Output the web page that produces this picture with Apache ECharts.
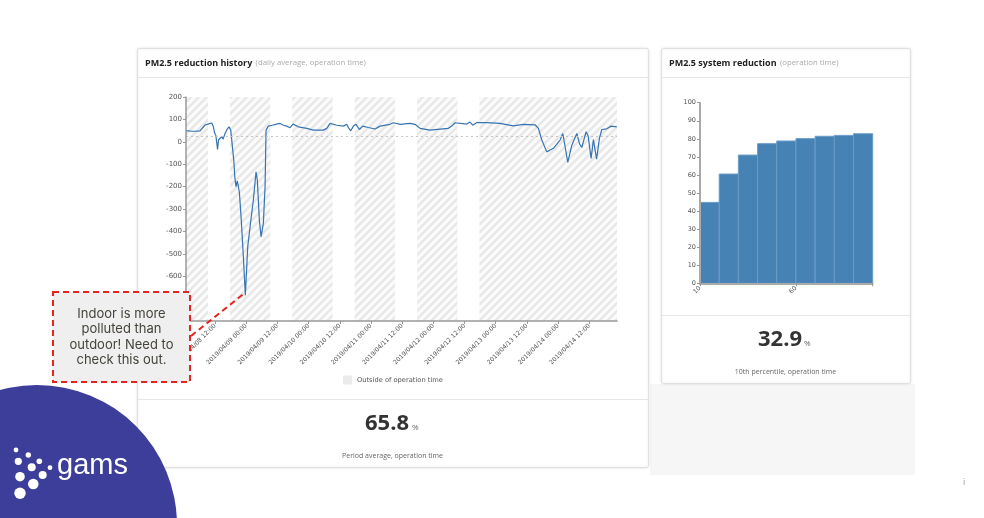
<!DOCTYPE html>
<html>
<head>
<meta charset="utf-8">
<script src="https://cdn.jsdelivr.net/npm/echarts@6/dist/echarts.min.js"></script>
<style>
html, body { margin: 0; padding: 0; background: #fff; }
#main { width: 984px; height: 518px; }
</style>
</head>
<body>
<div id="main"></div>
<script>
// reduction history (%)
const historyTimes = [
    '2019-04-08 00:50', '2019-04-08 03:00', '2019-04-08 04:58', '2019-04-08 06:14', '2019-04-08 06:53',
    '2019-04-08 08:10', '2019-04-08 09:30', '2019-04-08 10:44', '2019-04-08 11:21', '2019-04-08 11:49',
    '2019-04-08 12:20', '2019-04-08 12:58', '2019-04-08 13:21', '2019-04-08 13:56', '2019-04-08 14:35',
    '2019-04-08 15:05', '2019-04-08 15:51', '2019-04-08 16:37', '2019-04-08 17:24', '2019-04-08 18:03',
    '2019-04-08 18:49', '2019-04-08 19:14', '2019-04-08 19:38', '2019-04-08 20:05', '2019-04-08 20:35',
    '2019-04-08 21:21', '2019-04-08 22:01', '2019-04-08 22:54', '2019-04-08 23:40', '2019-04-09 00:35',
    '2019-04-09 01:29', '2019-04-09 02:45', '2019-04-09 03:47', '2019-04-09 04:17', '2019-04-09 05:03',
    '2019-04-09 05:43', '2019-04-09 06:36', '2019-04-09 07:15', '2019-04-09 07:38', '2019-04-09 08:31',
    '2019-04-09 10:00', '2019-04-09 11:45', '2019-04-09 13:01', '2019-04-09 14:18', '2019-04-09 15:36',
    '2019-04-09 16:52', '2019-04-09 18:01', '2019-04-09 20:04', '2019-04-09 23:18', '2019-04-10 01:50',
    '2019-04-10 05:41', '2019-04-10 07:00', '2019-04-10 08:16', '2019-04-10 10:51', '2019-04-10 13:23',
    '2019-04-10 14:41', '2019-04-10 15:23', '2019-04-10 16:14', '2019-04-10 17:14', '2019-04-10 18:16',
    '2019-04-10 19:32', '2019-04-10 20:51', '2019-04-10 23:00', '2019-04-11 01:35', '2019-04-11 03:30',
    '2019-04-11 07:21', '2019-04-11 08:37', '2019-04-11 11:12', '2019-04-11 15:03', '2019-04-11 16:58',
    '2019-04-11 18:54', '2019-04-11 22:45', '2019-04-12 02:36', '2019-04-12 05:47', '2019-04-12 07:06',
    '2019-04-12 08:22', '2019-04-12 12:52', '2019-04-12 14:08', '2019-04-12 15:11', '2019-04-12 16:43',
    '2019-04-12 20:34', '2019-04-13 01:41', '2019-04-13 06:48', '2019-04-13 10:39', '2019-04-13 15:09',
    '2019-04-13 16:25', '2019-04-13 17:44', '2019-04-13 19:39', '2019-04-13 20:56', '2019-04-13 22:12',
    '2019-04-14 00:46', '2019-04-14 01:49', '2019-04-14 02:42', '2019-04-14 03:44', '2019-04-14 05:17',
    '2019-04-14 07:12', '2019-04-14 08:17', '2019-04-14 09:08', '2019-04-14 10:47', '2019-04-14 11:33',
    '2019-04-14 12:42', '2019-04-14 13:35', '2019-04-14 14:49', '2019-04-14 15:54', '2019-04-14 16:49',
    '2019-04-14 18:45', '2019-04-14 20:24', '2019-04-14 22:35'
];
const historyValues = [
    50, 47, 48, 49, 55,
    75, 80, 84, 68, 40,
    28, -34, 8, 15, 24,
    11, 37, 55, 67, 52,
    -37, -85, -160, -200, -175,
    -223, -334, -513, -685, -468,
    -379, -260, -134, -171, -349,
    -424, -364, -201, 52, 70,
    74, 79, 82, 74, 70,
    63, 79, 67, 60, 52,
    52, 60, 82, 74, 70,
    78, 62, 49, 70, 78,
    55, 70, 64, 57, 70,
    78, 85, 78, 82, 78,
    60, 52, 57, 60, 70,
    85, 79, 88, 74, 86,
    86, 82, 71, 78, 76,
    60, 8, -45, -37, -29,
    8, 37, -22, -92, -15,
    37, -10, -25, 45, 27,
    -74, 10, -77, 15, 55,
    58, 70, 67
];
const referenceLevel = 25;
const historyStart = '2019-04-08 00:50';
const historyEnd = '2019-04-14 22:40';

// outside of operation time (start, end)
const offStarts = ['2019-04-08 00:50', '2019-04-08 17:45', '2019-04-09 17:45', '2019-04-10 17:45', '2019-04-11 17:45', '2019-04-12 17:45'];
const offEnds = ['2019-04-08 09:15', '2019-04-09 09:15', '2019-04-10 09:15', '2019-04-11 09:15', '2019-04-12 09:15', '2019-04-14 22:40'];

const historyTicks = [
    '2019-04-08 12:00', '2019-04-09 00:00', '2019-04-09 12:00', '2019-04-10 00:00', '2019-04-10 12:00',
    '2019-04-11 00:00', '2019-04-11 12:00', '2019-04-12 00:00', '2019-04-12 12:00', '2019-04-13 00:00',
    '2019-04-13 12:00', '2019-04-14 00:00', '2019-04-14 12:00'
];

// system reduction by percentile
const percentileFrom = [10, 20, 30, 40, 50, 60, 70, 80, 90];
const percentileTo = [20, 30, 40, 50, 60, 70, 80, 90, 100];
const percentileValues = [44.8, 60.5, 71.0, 77.3, 78.8, 80.1, 81.4, 81.9, 82.8];
const percentileTicks = [10, 60, 100];
const percentileLabels = [10, 60];

const periodAverage = '65.8';
const tenthPercentile = '32.9';

const ts = s => new Date(s.replace(' ', 'T') + ':00').getTime();
const pad = n => String(n).padStart(2, '0');

function stripes() {
    const c = document.createElement('canvas');
    c.width = 8;
    c.height = 8;
    const g = c.getContext('2d');
    g.fillStyle = '#fbfbfb';
    g.fillRect(0, 0, 8, 8);
    g.strokeStyle = '#e8e8e8';
    g.lineWidth = 2.6;
    g.beginPath();
    g.moveTo(-1, 1); g.lineTo(1, -1);
    g.moveTo(-1, 9); g.lineTo(9, -1);
    g.moveTo(7, 9); g.lineTo(9, 7);
    g.stroke();
    return c;
}

const chart = echarts.init(document.getElementById('main'));
const axisFont = 'DejaVu Sans';
const uiFont = 'Open Sans';

const lineData = historyTimes.map((t, i) => [ts(t), historyValues[i]]);
const offBands = offStarts.map((s, i) => [{xAxis: ts(s)}, {xAxis: ts(offEnds[i])}]);
const barData = percentileFrom.map((f, i) => [f, percentileTo[i], percentileValues[i]]);

function card(x, y, w, h) {
    return {
        type: 'rect', z: -10,
        shape: {x: x, y: y, width: w, height: h, r: 2},
        style: {fill: '#fff', stroke: '#e1e1e1', lineWidth: 1, shadowBlur: 3, shadowColor: 'rgba(0,0,0,0.10)'}
    };
}
function hline(x1, x2, y) {
    return {type: 'line', z: -9, shape: {x1: x1, y1: y, x2: x2, y2: y}, style: {stroke: '#e6e6e6', lineWidth: 1}};
}
function text(x, y, str, opt) {
    return {
        type: 'text', z: -8, x: x, y: y,
        style: Object.assign({text: str, align: 'left', verticalAlign: 'middle',
            textAlign: 'left', textVerticalAlign: 'middle'}, opt)
    };
}

const dots = [[16, 450, 2.4], [28.3, 455, 2.7], [39.3, 461.3, 2.8], [50, 467.7, 2.4], [18.3, 461.3, 3.6],
    [31.7, 467.3, 4], [42.7, 475, 4], [20, 476.7, 4.8], [33.3, 484, 5.3], [20, 493.3, 5.7]];

const option = {
    backgroundColor: '#fff',
    animation: false,
    legend: {
        left: 343, top: 375.5, padding: 0,
        itemWidth: 9, itemHeight: 9, itemGap: 10,
        data: [{name: 'Outside of operation time', icon: 'rect', itemStyle: {color: '#ebebeb'}}],
        textStyle: {fontFamily: axisFont, fontSize: 6.7, color: '#555'},
        selectedMode: false
    },
    grid: [
        {left: 186, top: 97, width: 431, height: 224},
        {left: 700, top: 102.7, width: 172.7, height: 180.6}
    ],
    xAxis: [
        {
            type: 'value', gridIndex: 0, z: 5,
            min: ts(historyStart), max: ts(historyEnd),
            axisLine: {onZero: false, lineStyle: {color: '#999', width: 1.5}},
            axisTick: {show: true, length: 3, lineStyle: {color: '#999'}, customValues: historyTicks.map(ts)},
            axisLabel: {
                customValues: historyTicks.map(ts),
                rotate: 45, fontSize: 6.1, fontFamily: axisFont, color: '#555', margin: 4,
                formatter: v => {
                    const d = new Date(v);
                    return d.getFullYear() + '/' + pad(d.getMonth() + 1) + '/' + pad(d.getDate()) + ' ' + pad(d.getHours()) + ':' + pad(d.getMinutes());
                }
            },
            splitLine: {show: false}
        },
        {
            type: 'value', gridIndex: 1, min: 10, max: 100, z: 5,
            axisLine: {onZero: false, lineStyle: {color: '#aaa', width: 2}},
            axisTick: {show: true, length: 3, lineStyle: {color: '#999'}, customValues: percentileTicks},
            axisLabel: {customValues: percentileLabels, rotate: 45, fontSize: 6.3, fontFamily: axisFont, color: '#555', margin: 4},
            splitLine: {show: false}
        }
    ],
    yAxis: [
        {
            type: 'value', gridIndex: 0, min: -800, max: 200, interval: 100, z: 5,
            axisLine: {show: true, onZero: false, lineStyle: {color: '#999', width: 1.5}},
            axisTick: {show: true, length: 3, lineStyle: {color: '#999'}},
            axisLabel: {fontSize: 7, fontFamily: axisFont, color: '#555', margin: 4},
            splitLine: {show: false}
        },
        {
            type: 'value', gridIndex: 1, min: 0, max: 100, interval: 10, z: 5,
            axisLine: {show: true, onZero: false, lineStyle: {color: '#aaa', width: 2}},
            axisTick: {show: true, length: 3, lineStyle: {color: '#999'}},
            axisLabel: {fontSize: 6.5, fontFamily: axisFont, color: '#555', margin: 4},
            splitLine: {show: false}
        }
    ],
    series: [
        {
            name: 'Outside of operation time',
            type: 'line', xAxisIndex: 0, yAxisIndex: 0, z: 1,
            data: [],
            color: '#ebebeb',
            markArea: {
                silent: true,
                itemStyle: {color: {image: stripes(), repeat: 'repeat'}},
                data: offBands
            }
        },
        {
            name: 'PM2.5 reduction',
            type: 'line', xAxisIndex: 0, yAxisIndex: 0, z: 3,
            data: lineData,
            showSymbol: false,
            lineStyle: {color: '#3674b2', width: 1.2},
            markLine: {
                silent: true, symbol: 'none',
                label: {show: false},
                lineStyle: {color: '#c4c4c4', type: [2, 3], width: 1},
                data: [{yAxis: referenceLevel}]
            }
        },
        {
            name: 'System reduction',
            type: 'custom', xAxisIndex: 1, yAxisIndex: 1,
            data: barData,
            encode: {x: [0, 1], y: 2},
            renderItem: (params, api) => {
                const a = api.coord([api.value(0), api.value(2)]);
                const b = api.coord([api.value(1), 0]);
                return {
                    type: 'rect',
                    shape: {x: a[0], y: a[1], width: b[0] - a[0], height: b[1] - a[1]},
                    style: {fill: '#4682b4', stroke: '#6a9bc9', lineWidth: 1}
                };
            }
        }
    ],
    graphic: []
};

chart.setOption(option);

// annotation anchored at the lowest reading
let minIdx = 0;
historyValues.forEach((v, i) => { if (v < historyValues[minIdx]) minIdx = i; });
const low = chart.convertToPixel({gridIndex: 0}, [ts(historyTimes[minIdx]), historyValues[minIdx]]);

chart.setOption({
    graphic: [
        {type: 'rect', z: -11, shape: {x: 650, y: 384, width: 265, height: 91}, style: {fill: '#f6f6f6'}},
        card(137.5, 48.5, 511, 419),
        hline(138, 648, 77.5),
        hline(138, 648, 399.5),
        card(661.5, 48.5, 249, 335),
        hline(662, 910, 77.5),
        hline(662, 910, 315.5),
        text(145, 63, '{t|PM2.5 reduction history} {s|(daily average, operation time)}', {
            rich: {
                t: {fontFamily: uiFont, fontSize: 9, fontWeight: 'bold', fill: '#222', color: '#222'},
                s: {fontFamily: uiFont, fontSize: 7.8, fill: '#aaa', color: '#aaa'}
            }
        }),
        text(669, 63, '{t|PM2.5 system reduction} {s|(operation time)}', {
            rich: {
                t: {fontFamily: uiFont, fontSize: 9, fontWeight: 'bold', fill: '#222', color: '#222'},
                s: {fontFamily: uiFont, fontSize: 7.8, fill: '#aaa', color: '#aaa'}
            }
        }),
        text(409, 424, periodAverage, {font: 'bold 22px "Open Sans"', fill: '#333', align: 'right', textAlign: 'right'}),
        text(412, 428, '%', {font: '8px "Open Sans"', fill: '#666'}),
        text(392.5, 455.5, 'Period average, operation time', {font: '7px "Open Sans"', fill: '#666', align: 'center', textAlign: 'center'}),
        text(802, 340, tenthPercentile, {font: 'bold 22px "Open Sans"', fill: '#333', align: 'right', textAlign: 'right'}),
        text(804, 344, '%', {font: '8px "Open Sans"', fill: '#666'}),
        text(785.5, 371.5, '10th percentile, operation time', {font: '7px "Open Sans"', fill: '#666', align: 'center', textAlign: 'center'}),
        text(963, 483, 'i', {font: '8px "DejaVu Sans"', fill: '#999'}),
        // annotation
        {
            type: 'line', z: 50,
            shape: {x1: 191, y1: 336, x2: low[0] - 1, y2: low[1] - 2},
            style: {stroke: '#e8231f', lineWidth: 2, lineDash: [6, 4]}
        },
        {
            type: 'rect', z: 50,
            shape: {x: 53, y: 292, width: 137, height: 90},
            style: {fill: '#efefef', stroke: '#e8231f', lineWidth: 2, lineDash: [6, 4]}
        },
        {
            type: 'text', z: 51, x: 121.5, y: 337,
            style: {
                text: 'Indoor is more\npolluted than\noutdoor! Need to\ncheck this out.',
                font: '13px Inter', fill: '#45433a', lineHeight: 15.6,
                align: 'center', verticalAlign: 'middle', textAlign: 'center', textVerticalAlign: 'middle'
            }
        },
        // logo
        {type: 'circle', z: 60, shape: {cx: 37, cy: 525, r: 140}, style: {fill: '#3c3e99'}},
        {
            type: 'text', z: 61, x: 57, y: 480,
            style: {text: 'gams', font: '29px "Liberation Sans"', fill: '#fff',
                align: 'left', verticalAlign: 'bottom', textAlign: 'left', textVerticalAlign: 'bottom'}
        }
    ].concat(dots.map(d => ({type: 'circle', z: 61, shape: {cx: d[0], cy: d[1], r: d[2]}, style: {fill: '#fff'}})))
});
</script>
</body>
</html>
